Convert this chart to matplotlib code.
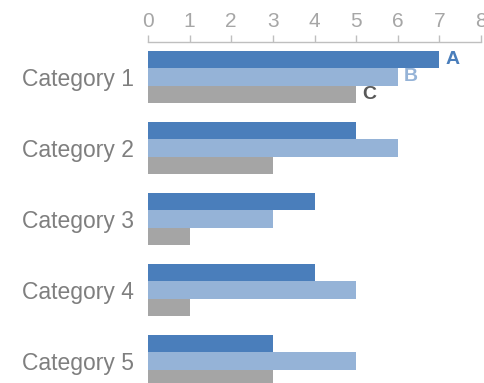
import matplotlib
matplotlib.use("Agg")
import matplotlib.pyplot as plt
import numpy as np

plt.rcParams['font.family'] = ['Liberation Sans', 'DejaVu Sans']

categories = ["Category 1", "Category 2", "Category 3", "Category 4", "Category 5"]
series_names = ["A", "B", "C"]
values_A = [7, 5, 4, 4, 3]
values_B = [6, 6, 3, 5, 5]
values_C = [5, 3, 1, 1, 3]
x_ticks = [0, 1, 2, 3, 4, 5, 6, 7, 8]

colors = ["#4a7ebb", "#95b3d7", "#a5a5a5"]
label_colors = ["#4a7ebb", "#95b3d7", "#595959"]

fig = plt.figure(figsize=(4.84, 3.83), dpi=100)
W, H = 484, 383
ax = fig.add_axes([148 / W, 0, (481 - 148) / W, (383 - 42) / H])

y = np.arange(len(categories))
h = 0.246
offs = [-h, 0, h]
for vals, c, o, name, lc in zip([values_A, values_B, values_C], colors, offs, series_names, label_colors):
    ax.barh(y + o, vals, height=h, color=c, edgecolor='none')
    ax.text(vals[0] + 0.15, y[0] + o, name, color=lc, fontsize=14, fontweight='bold',
            va='center', ha='left')

ax.set_xlim(0, 8)
ax.set_ylim(4.31, -0.49)
ax.xaxis.tick_top()
ax.set_xticks(x_ticks)
ax.set_xticklabels([str(t) for t in x_ticks], color='#a6a6a6', fontsize=15)
ax.tick_params(axis='x', direction='out', length=5, color='#bfbfbf', width=1, pad=3)
ax.set_yticks(y)
ax.set_yticklabels(categories, color='#7f7f7f', fontsize=16.5)
ax.tick_params(axis='y', length=0, pad=10)
for s in ['left', 'right', 'bottom']:
    ax.spines[s].set_visible(False)
ax.spines['top'].set_color('#bfbfbf')
ax.spines['top'].set_linewidth(1)

fig.savefig("out.png", dpi=100)
